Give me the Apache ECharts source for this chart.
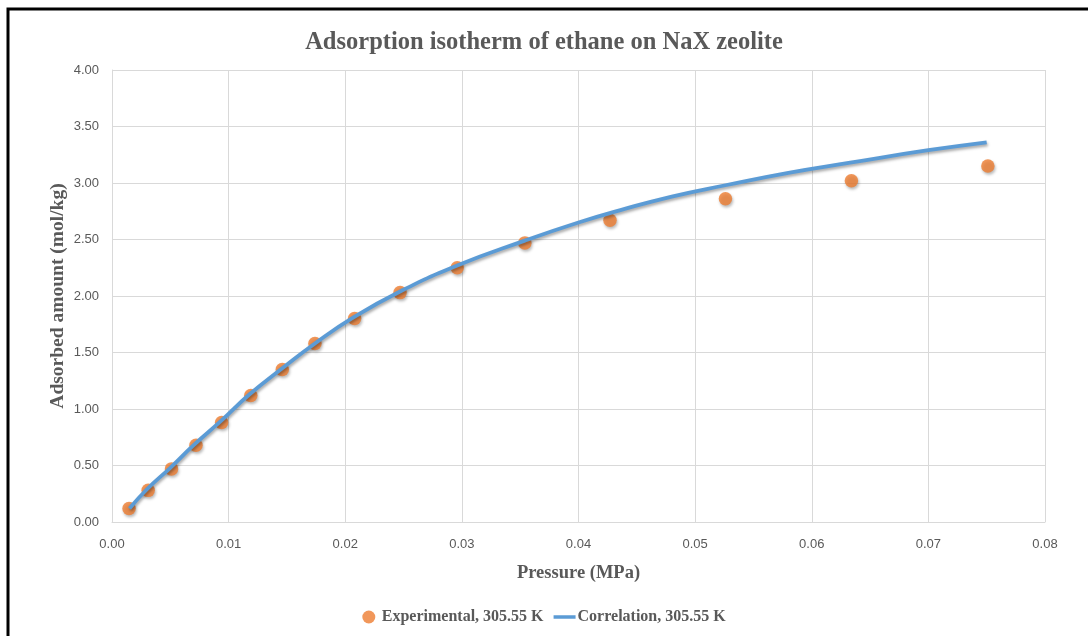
<!DOCTYPE html>
<html>
<head>
<meta charset="utf-8">
<script src="https://cdn.jsdelivr.net/npm/echarts@6/dist/echarts.min.js"></script>
<style>
  html, body { margin: 0; padding: 0; background: #ffffff; }
  #chart { width: 1088px; height: 636px; }
</style>
</head>
<body>
<div id="chart"></div>
<script>
// Experimental points: [pressure (MPa), adsorbed amount (mol/kg)]
const experimentalPressure = [0.00146, 0.0031, 0.0051, 0.0072, 0.0094, 0.0119, 0.0146, 0.0174, 0.0208, 0.0247, 0.0296, 0.0354, 0.0427, 0.0526, 0.0634, 0.0751];
const experimentalAmount   = [0.12, 0.28, 0.47, 0.68, 0.88, 1.12, 1.35, 1.58, 1.80, 2.03, 2.25, 2.47, 2.67, 2.86, 3.02, 3.15];

// Correlation curve
const correlationPressure = [0.0015, 0.003, 0.005, 0.007, 0.0093, 0.0118, 0.0146, 0.0174, 0.0207, 0.0247, 0.0296, 0.0354, 0.040, 0.0436, 0.048, 0.0526, 0.058, 0.0633, 0.070, 0.075];
const correlationAmount   = [0.12, 0.29, 0.48, 0.68, 0.89, 1.13, 1.36, 1.58, 1.81, 2.04, 2.27, 2.49, 2.65, 2.76, 2.88, 2.98, 3.09, 3.18, 3.29, 3.36];

const titleText = 'Adsorption isotherm of ethane on NaX zeolite';
const xAxisName = 'Pressure (MPa)';
const yAxisName = 'Adsorbed amount (mol/kg)';
const seriesNames = ['Experimental, 305.55 K', 'Correlation, 305.55 K'];

const expData = experimentalPressure.map((p, i) => [p, experimentalAmount[i]]);
const corData = correlationPressure.map((p, i) => [p, correlationAmount[i]]);

const serif = '"Liberation Serif", "DejaVu Serif", serif';
const sans = '"Liberation Sans", "Open Sans", sans-serif';
const textGrey = '#595959';
const gridGrey = '#d9d9d9';

const chart = echarts.init(document.getElementById('chart'), null, { renderer: 'canvas' });
chart.setOption({
  backgroundColor: '#ffffff',
  animation: false,
  title: {
    text: titleText,
    left: 'center',
    top: 25,
    textStyle: { fontFamily: serif, fontWeight: 'bold', fontSize: 24.5, color: textGrey }
  },
  grid: { left: 112, right: 43, top: 70, bottom: 114, containLabel: false },
  xAxis: {
    type: 'value',
    min: 0, max: 0.08, interval: 0.01,
    name: xAxisName,
    nameLocation: 'middle',
    nameGap: 42,
    nameMoveOverlap: false,
    nameTextStyle: { fontFamily: serif, fontWeight: 'bold', fontSize: 18.5, color: textGrey },
    axisLine: { show: true, lineStyle: { color: gridGrey, width: 1 } },
    axisTick: { show: false },
    axisLabel: { color: textGrey, fontFamily: sans, fontSize: 13, margin: 16, formatter: v => v.toFixed(2) },
    splitLine: { show: true, lineStyle: { color: gridGrey, width: 1 } }
  },
  yAxis: {
    type: 'value',
    min: 0, max: 4, interval: 0.5,
    name: yAxisName,
    nameLocation: 'middle',
    nameGap: 44,
    nameMoveOverlap: false,
    nameTextStyle: { fontFamily: serif, fontWeight: 'bold', fontSize: 19.5, color: textGrey },
    axisLine: { show: true, lineStyle: { color: gridGrey, width: 1 } },
    axisTick: { show: false },
    axisLabel: { color: textGrey, fontFamily: sans, fontSize: 13, margin: 13, formatter: v => v.toFixed(2) },
    splitLine: { show: true, lineStyle: { color: gridGrey, width: 1 } }
  },
  legend: {
    bottom: 6,
    left: 'center',
    itemGap: 10,
    itemWidth: 22,
    itemHeight: 13,
    textStyle: { fontFamily: serif, fontWeight: 'bold', fontSize: 16, color: textGrey, padding: [0, 0, 0, -3] },
    data: [
      { name: seriesNames[0], icon: 'circle' },
      { name: seriesNames[1], icon: 'path://M0,0L22,0L22,3.5L0,3.5Z' }
    ]
  },
  series: [
    {
      name: seriesNames[0],
      type: 'scatter',
      data: expData,
      symbol: 'circle',
      symbolSize: 13.5,
      z: 2,
      itemStyle: {
        color: '#ED7D31',
        shadowBlur: 3,
        shadowColor: 'rgba(0,0,0,0.35)',
        shadowOffsetX: 1,
        shadowOffsetY: 2
      }
    },
    {
      name: seriesNames[1],
      type: 'line',
      data: corData,
      smooth: true,
      symbol: 'none',
      showSymbol: false,
      z: 3,
      itemStyle: { color: '#5B9BD5' },
      lineStyle: {
        color: '#5B9BD5',
        width: 3.8,
        shadowBlur: 3,
        shadowColor: 'rgba(0,0,0,0.35)',
        shadowOffsetX: 1,
        shadowOffsetY: 2
      }
    }
  ],
  graphic: [
    {
      type: 'polyline',
      silent: true,
      z: 100,
      shape: { points: [[8, 636], [8, 9], [1088, 9]] },
      style: { stroke: '#000000', lineWidth: 3, fill: null }
    }
  ]
});
</script>
</body>
</html>
